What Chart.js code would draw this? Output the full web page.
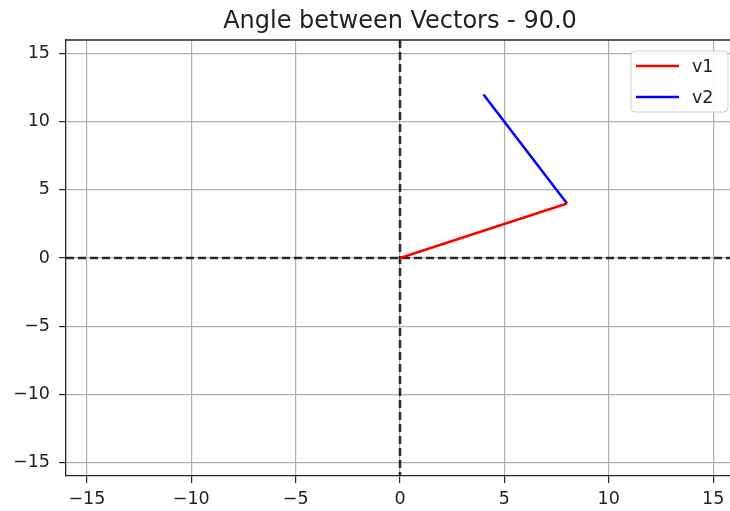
<!DOCTYPE html>
<html>
<head>
<meta charset="utf-8">
<script src="https://cdn.jsdelivr.net/npm/chart.js@4/dist/chart.umd.min.js"></script>
<style>
html,body{margin:0;padding:0;overflow:hidden;background:#fff;width:730px;height:511px;}
#wrap{position:relative;width:730px;height:511px;overflow:hidden;}
canvas{display:block;}
</style>
</head>
<body>
<div id="wrap"><canvas id="c" width="740" height="511"></canvas></div>
<script>
// ---- data ----
const titleText = "Angle between Vectors - 90.0";
const seriesNames = ["v1", "v2"];
const seriesColors = ["#ff0000", "#0000ff"];
const v1X = [0, 8];
const v1Y = [0, 4];
const v2X = [8, 4];
const v2Y = [4, 12];
const xLimits = [-16, 16];
const yLimits = [-16, 16];
const xTickValues = [-15, -10, -5, 0, 5, 10, 15];
const yTickValues = [-15, -10, -5, 0, 5, 10, 15];
const zeroLines = [0];

const FONT = "'DejaVu Sans', sans-serif";
const toPts = (xs, ys) => xs.map((x, i) => ({x: x, y: ys[i]}));

const fmt = v => String(v).replace('-', '\u2212');

const zeroLinePlugin = {
  id: 'zeroLines',
  beforeDatasetsDraw(chart) {
    const {ctx, chartArea: a, scales: {x, y}} = chart;
    ctx.save();
    ctx.beginPath();
    ctx.rect(a.left, a.top, a.right - a.left, a.bottom - a.top);
    ctx.clip();
    ctx.strokeStyle = 'rgba(0,0,0,0.8)';
    ctx.lineWidth = 2.6;
    ctx.setLineDash([8, 4]);
    zeroLines.forEach(v => {
      const py = y.getPixelForValue(v);
      ctx.beginPath(); ctx.moveTo(a.left, py); ctx.lineTo(a.right, py); ctx.stroke();
      const px = x.getPixelForValue(v);
      ctx.beginPath(); ctx.moveTo(px, a.top); ctx.lineTo(px, a.bottom); ctx.stroke();
    });
    ctx.restore();
  }
};

const framePlugin = {
  id: 'frame',
  afterDraw(chart) {
    const {ctx, chartArea: a} = chart;
    ctx.save();
    // top & right spines
    ctx.strokeStyle = '#262626';
    ctx.lineWidth = 1.3;
    ctx.beginPath();
    ctx.moveTo(a.left, a.top); ctx.lineTo(a.right, a.top); ctx.lineTo(a.right, a.bottom);
    ctx.stroke();
    // title
    ctx.fillStyle = '#222';
    ctx.font = "24px " + FONT;
    ctx.textAlign = 'center';
    ctx.textBaseline = 'alphabetic';
    ctx.fillText(titleText, (a.left + a.right) / 2, 28);
    // legend
    const bx = 631, by = 51, bw = 97, bh = 61, r = 4;
    ctx.fillStyle = 'rgba(255,255,255,0.85)';
    ctx.strokeStyle = '#d0d0d0';
    ctx.lineWidth = 1;
    ctx.beginPath();
    ctx.moveTo(bx + r, by);
    ctx.lineTo(bx + bw - r, by); ctx.arcTo(bx + bw, by, bx + bw, by + r, r);
    ctx.lineTo(bx + bw, by + bh - r); ctx.arcTo(bx + bw, by + bh, bx + bw - r, by + bh, r);
    ctx.lineTo(bx + r, by + bh); ctx.arcTo(bx, by + bh, bx, by + bh - r, r);
    ctx.lineTo(bx, by + r); ctx.arcTo(bx, by, bx + r, by, r);
    ctx.closePath();
    ctx.fill(); ctx.stroke();
    chart.data.datasets.forEach((ds, i) => {
      const ly = 66 + i * 31;
      ctx.strokeStyle = ds.borderColor;
      ctx.lineWidth = 2.5;
      ctx.beginPath(); ctx.moveTo(636, ly); ctx.lineTo(679, ly); ctx.stroke();
      ctx.fillStyle = '#222';
      ctx.font = "17.5px " + FONT;
      ctx.textAlign = 'left';
      ctx.textBaseline = 'middle';
      ctx.fillText(ds.label, 692, ly + 1);
    });
    ctx.restore();
  }
};

const axisCommon = (limits, tickVals, pad) => ({
  type: 'linear',
  min: limits[0],
  max: limits[1],
  afterBuildTicks: s => { s.ticks = tickVals.map(v => ({value: v})); },
  grid: {color: '#b0b0b0', lineWidth: 1.2, tickColor: '#262626', tickLength: 7, tickWidth: 1.2, drawOnChartArea: true},
  border: {color: '#262626', width: 1.3},
  ticks: {
    autoSkip: false, maxRotation: 0, padding: pad, color: '#222',
    font: {family: FONT, size: 17.5},
    callback: v => fmt(v)
  }
});

const xAxis = axisCommon(xLimits, xTickValues, 6);
xAxis.afterFit = s => { s.height = 35; };
const yAxis = axisCommon(yLimits, yTickValues, 9);
yAxis.afterFit = s => { s.width = 66; };

new Chart(document.getElementById('c'), {
  type: 'scatter',
  data: {
    datasets: [
      {label: seriesNames[0], data: toPts(v1X, v1Y), borderColor: seriesColors[0], backgroundColor: seriesColors[0], showLine: true, pointRadius: 0, borderWidth: 2.5},
      {label: seriesNames[1], data: toPts(v2X, v2Y), borderColor: seriesColors[1], backgroundColor: seriesColors[1], showLine: true, pointRadius: 0, borderWidth: 2.5}
    ]
  },
  options: {
    responsive: false,
    animation: false,
    layout: {padding: {left: 0, top: 40, right: 6, bottom: 0}},
    plugins: {legend: {display: false}, title: {display: false}, tooltip: {enabled: false}},
    scales: {x: xAxis, y: yAxis}
  },
  plugins: [zeroLinePlugin, framePlugin]
});
</script>
</body>
</html>
